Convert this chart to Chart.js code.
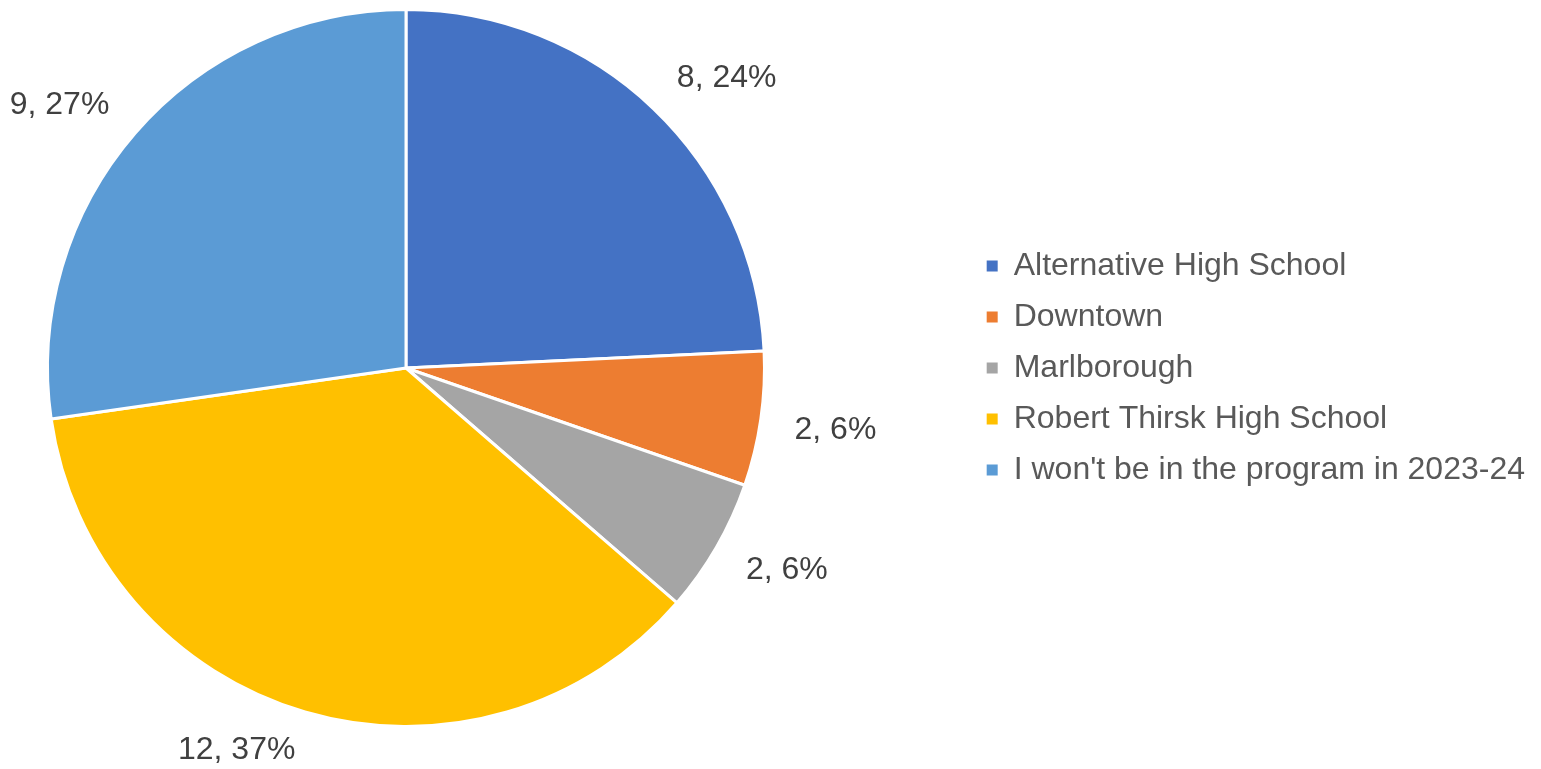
<!DOCTYPE html>
<html>
<head>
<meta charset="utf-8">
<script src="https://cdn.jsdelivr.net/npm/chart.js@4.4.1/dist/chart.umd.min.js"></script>
<style>
    html, body { margin: 0; padding: 0; background: #fff; }
    #wrap { width: 1541px; height: 769px; }
</style>
</head>
<body>
<div id="wrap"><canvas id="school-pie"></canvas></div>
<script>
const schools = ['Alternative High School', 'Downtown', 'Marlborough', 'Robert Thirsk High School', "I won't be in the program in 2023-24"];
const counts = [8, 2, 2, 12, 9];
const percents = [24, 6, 6, 37, 27];
const sliceColors = ['#4472C4', '#ED7D31', '#A5A5A5', '#FFC000', '#5B9BD5'];

document.addEventListener("DOMContentLoaded", function () {
    var ctx = document.getElementById('school-pie').getContext('2d');
    Chart.defaults.font.family = "'Liberation Sans', Arial, sans-serif";

    // keep the pie over on the left: make the chart area square instead of filling up to the legend
    const squareArea = {
        id: 'squareArea',
        afterLayout(chart) {
            const area = chart.chartArea;
            area.right = area.left + area.height;
            area.width = area.height;
        }
    };

    // "count, pct%" labels just outside each slice, Excel style (text corner at the anchor)
    const outsideLabels = {
        id: 'outsideLabels',
        afterDatasetsDraw(chart) {
            const c = chart.ctx;
            const arcs = chart.getDatasetMeta(0).data;
            c.save();
            c.font = "32px 'Liberation Sans', Arial, sans-serif";
            c.fillStyle = '#404040';
            c.textAlign = 'center';
            c.textBaseline = 'middle';
            arcs.forEach((arc, i) => {
                const text = counts[i] + ', ' + percents[i] + '%';
                const hw = c.measureText(text).width / 2;
                const a = (arc.startAngle + arc.endAngle) / 2;
                const d = arc.outerRadius + 34;
                const x = arc.x + Math.cos(a) * d + hw * Math.max(-1, Math.min(1, Math.cos(a) * 4));
                const y = arc.y + Math.sin(a) * d + 6 * Math.sign(Math.sin(a));
                c.fillText(text, x, y);
            });
            c.restore();
        }
    };

    var data = {
        labels: schools,
        datasets: [{
            data: counts,
            backgroundColor: sliceColors,
            borderColor: '#ffffff',
            borderWidth: 3
        }]
    };

    var options = {
        responsive: true,
        maintainAspectRatio: false,
        animation: false,
        layout: {
            padding: { left: 46, right: 6, top: 8, bottom: 41 }
        },
        plugins: {
            legend: {
                display: true,
                position: 'right',
                labels: {
                    boxWidth: 11,
                    boxHeight: 11,
                    padding: 19,
                    color: '#595959',
                    font: { size: 32 },
                    generateLabels: function () {
                        return schools.map((name, i) => ({
                            text: name,
                            fillStyle: sliceColors[i],
                            strokeStyle: sliceColors[i],
                            fontColor: '#595959',
                            lineWidth: 0,
                            hidden: false,
                            index: i
                        }));
                    }
                }
            },
            tooltip: { enabled: false }
        }
    };

    new Chart(ctx, {
        type: 'pie',
        data: data,
        options: options,
        plugins: [squareArea, outsideLabels]
    });
});
</script>
</body>
</html>
